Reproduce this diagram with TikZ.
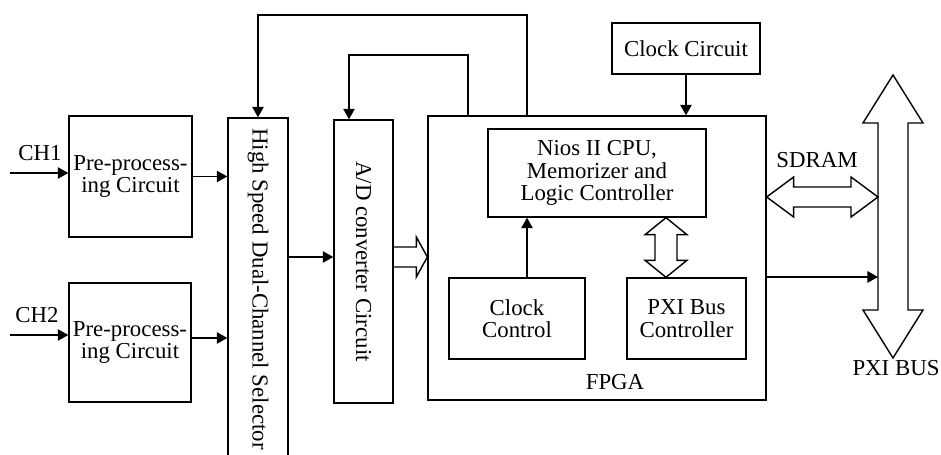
\documentclass[tikz,border=0pt]{standalone}
\usepackage{fontspec}
\setmainfont{Liberation Serif}
\usetikzlibrary{positioning,calc,arrows.meta}
\tikzset{
  blk/.style={draw, line width=0.8pt, align=center, inner sep=0pt},
  lbl/.style={inner sep=0pt},
  sig/.style={line width=0.8pt, -{Triangle[length=6pt,width=6.5pt]}},
  bus/.style={line width=0.8pt, line join=miter},
}
% hollow double arrows: end 1, end 2, shaft half width, head half width, head length
\newcommand{\hbus}[5]{
  \draw[bus] (#1) -- ++(#5,-#4) -- ++(0,#4-#3) -- ($(#2)+(-#5,-#3)$) -- ++(0,#3-#4) -- (#2)
    -- ++(-#5,#4) -- ++(0,#3-#4) -- ($(#1)+(#5,#3)$) -- ++(0,#4-#3) -- cycle;
}
\newcommand{\vbus}[5]{
  \draw[bus] (#1) -- ++(-#4,#5) -- ++(#4-#3,0) -- ($(#2)+(-#3,-#5)$) -- ++(#3-#4,0) -- (#2)
    -- ++(#4,-#5) -- ++(#3-#4,0) -- ($(#1)+(#3,#5)$) -- ++(#4-#3,0) -- cycle;
}
\begin{document}
\begin{tikzpicture}[x=0.02cm,y=-0.02cm,font=\rmfamily\fontsize{13}{12.8}\selectfont]
\useasboundingbox (0,0) rectangle (941,455);
\clip (0,0) rectangle (941,455);

% blocks
\node[blk, minimum width=2.46cm, minimum height=2.42cm] (pre1) at (130.5,176.5) {Pre-process-\\ing Circuit};
\node[blk, minimum width=2.44cm, minimum height=2.38cm] (pre2) at (130,342.5) {Pre-process-\\ing Circuit};
\node[blk, minimum width=1.2cm, minimum height=6.84cm] (sel) at (258,289) {\rotatebox{-90}{High Speed Dual-Channel Selector}};
\node[blk, minimum width=1.18cm, minimum height=5.66cm] (ad) at (363.5,261.5) {\rotatebox{-90}{A/D converter Circuit}};
\node[blk, minimum width=6.76cm, minimum height=5.68cm] (fpga) at (597,258) {};
\node[lbl] (fpgalbl) at (615,382) {FPGA};
\node[blk, minimum width=4.36cm, minimum height=1.76cm] (nios) at (597,173) {Nios II CPU,\\Memorizer and\\Logic Controller};
\node[blk, minimum width=2.72cm, minimum height=1.62cm] (clkctl) at (517,318.5) {Clock\\Control};
\node[blk, minimum width=2.38cm, minimum height=1.62cm] (pxictl) at (686.5,318.5) {PXI Bus\\Controller};
\node[blk, minimum width=2.96cm, minimum height=1.02cm] (clkcir) at (686,48.5) {Clock Circuit};

% labels
\node[lbl] (ch1lbl) at (40,153) {CH1};
\node[lbl] (ch2lbl) at (37,315) {CH2};
\node[lbl] (sdramlbl) at (817,160) {SDRAM};
\node[lbl] (buslbl) at (896,368) {PXI BUS};

% inputs
\coordinate (ch1in) at (10,173);
\coordinate (ch2in) at (10,335);
\draw[sig] (ch1in) -- (ch1in -| pre1.west);
\draw[sig] (ch2in) -- (ch2in -| pre2.west);
\draw[sig] (pre1.east) -- (pre1.east -| sel.west);
\coordinate (p2out) at (191,338);
\draw[sig] (p2out) -- (p2out -| sel.west);
\coordinate (selout) at (288,257);
\draw[sig] (selout) -- (selout -| ad.west);

% A/D data into FPGA
\coordinate (adout) at (393,257);
\coordinate (fpgain) at (adout -| fpga.west);
\draw[bus] ($(adout)+(0,-10)$) -- ($(fpgain)+(-11,-10)$) -- ++(0,-10) -- (fpgain)
  -- ++(-11,20) -- ++(0,-10) -- ($(adout)+(0,10)$);

% feedback from FPGA
\coordinate (fb1) at (527,15);
\draw[sig] (fb1 |- fpga.north) -- (fb1) -| (sel.north);
\coordinate (fb2) at (468,55);
\coordinate (fb2a) at (349,55);
\draw[sig] (fb2 |- fpga.north) -- (fb2) -- (fb2a) -- (fb2a |- ad.north);
\draw[sig] (clkcir.south) -- (clkcir.south |- fpga.north);
\coordinate (ccup) at (527,0);
\draw[sig] (clkctl.north -| ccup) -- (nios.south -| ccup);

% buses
\coordinate (nb) at (666,0);
\vbus{nios.south -| nb}{pxictl.north -| nb}{11}{21}{17}
\coordinate (sdr) at (878,197);
\hbus{fpga.east |- sdr}{sdr}{10}{20}{27}
\coordinate (bustop) at (893,75);
\coordinate (busbot) at (893,358);
\vbus{bustop}{busbot}{15}{30}{48}
\coordinate (busin) at (878,277);
\draw[sig] (fpga.east |- busin) -- (busin);
\end{tikzpicture}
\end{document}
